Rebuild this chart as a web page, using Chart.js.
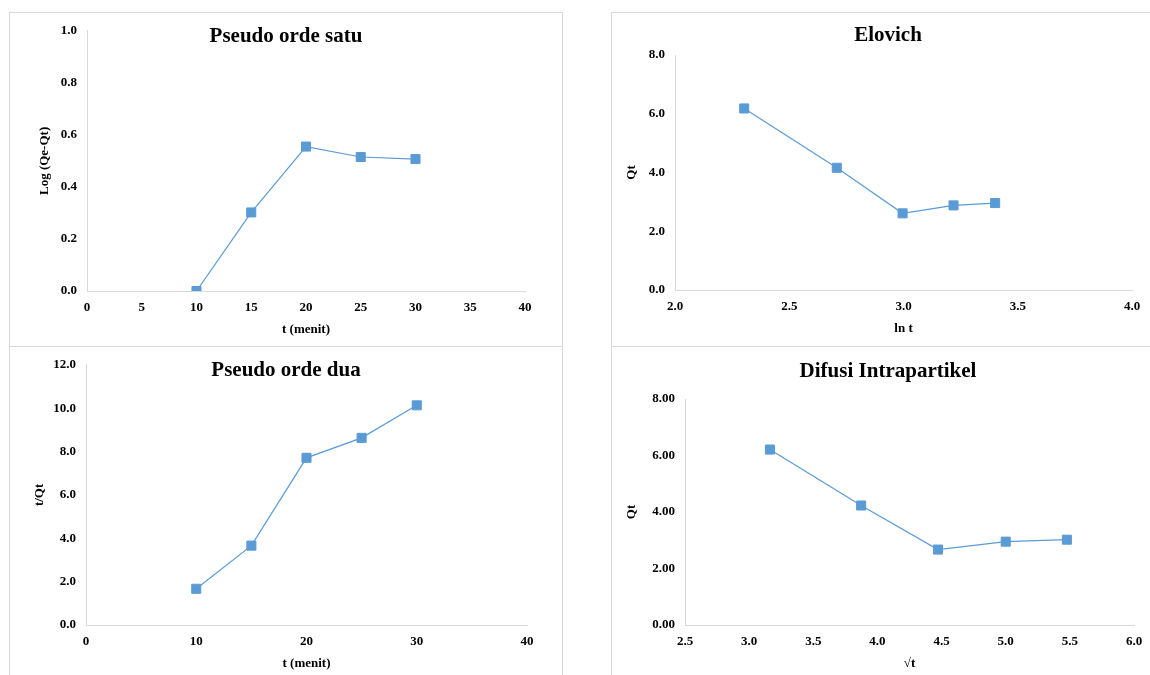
<!DOCTYPE html>
<html>
<head>
<meta charset="utf-8">
<script src="https://cdn.jsdelivr.net/npm/chart.js@4.4.1/dist/chart.umd.min.js"></script>
<style>
  html, body { margin: 0; padding: 0; background: #fff; }
  #page { position: relative; width: 1150px; height: 675px; overflow: hidden; }
  .panel { position: absolute; box-sizing: border-box; border: 1px solid #d9d9d9; }
  .panel canvas { display: block; }
</style>
</head>
<body>
<div id="page">
  <div class="panel" id="p1" style="left:9px; top:12px; width:554px; height:335px;"><canvas id="c1"></canvas></div>
  <div class="panel" id="p2" style="left:611px; top:12px; width:545px; height:335px;"><canvas id="c2"></canvas></div>
  <div class="panel" id="p3" style="left:9px; top:346px; width:554px; height:335px;"><canvas id="c3"></canvas></div>
  <div class="panel" id="p4" style="left:611px; top:346px; width:545px; height:335px;"><canvas id="c4"></canvas></div>
</div>
<script>
// --- data ---
const tMenit = [10, 15, 20, 25, 30];
const logQeQt = [0.0, 0.302, 0.555, 0.515, 0.507];
const lnT = [2.303, 2.708, 2.996, 3.219, 3.401];
const qtElovich = [6.18, 4.16, 2.61, 2.88, 2.96];
const tPerQt = [1.67, 3.66, 7.71, 8.63, 10.13];
const akarT = [3.162, 3.873, 4.472, 5.0, 5.477];
const qtDifusi = [6.21, 4.23, 2.67, 2.95, 3.02];

// tick labels
const xTicksSatu = [0, 5, 10, 15, 20, 25, 30, 35, 40];
const yTicksSatu = [0, 0.2, 0.4, 0.6, 0.8, 1.0];
const xTicksElovich = [2.0, 2.5, 3.0, 3.5, 4.0];
const yTicksElovich = [0, 2, 4, 6, 8];
const xTicksDua = [0, 10, 20, 30, 40];
const yTicksDua = [0, 2, 4, 6, 8, 10, 12];
const xTicksDifusi = [2.5, 3.0, 3.5, 4.0, 4.5, 5.0, 5.5, 6.0];
const yTicksDifusi = [0, 2, 4, 6, 8];

const FONT = '"Liberation Serif", "Times New Roman", serif';
const BLUE = '#5b9bd5';
const AXIS_GRAY = '#d9d9d9';

// judul grafik digambar di dalam kanvas
const panelTitle = {
    id: 'panelTitle',
    afterDraw(chart, args, opts) {
        const ctx = chart.ctx;
        ctx.save();
        ctx.font = 'bold 21px ' + FONT;
        ctx.fillStyle = '#000';
        ctx.textAlign = 'center';
        ctx.textBaseline = 'middle';
        ctx.fillText(opts.text, opts.x, opts.y);
        ctx.restore();
    }
};

function axis(ticks, digits, label, fitSize, titlePad, tickPad, horizontal) {
    return {
        type: 'linear',
        min: ticks[0],
        max: ticks[ticks.length - 1],
        afterBuildTicks: s => { s.ticks = ticks.map(v => ({ value: v })); },
        afterFit: s => { if (horizontal) s.height = fitSize; else s.width = fitSize; },
        grid: { display: false, drawTicks: false },
        border: { display: true, color: AXIS_GRAY, width: 1 },
        ticks: {
            color: '#000',
            padding: tickPad,
            autoSkip: false,
            maxRotation: 0,
            font: { family: FONT, size: 13, weight: 'bold' },
            callback: v => Number(v).toFixed(digits)
        },
        title: {
            display: true,
            text: label,
            color: '#000',
            font: { family: FONT, size: 13, weight: 'bold' },
            padding: horizontal ? { top: 0, bottom: titlePad } : { top: titlePad, bottom: 0 }
        }
    };
}

function buildPanel(canvasId, p) {
    const ctx = document.getElementById(canvasId).getContext('2d');
    return new Chart(ctx, {
        type: 'scatter',
        data: {
            datasets: [{
                data: p.xs.map((x, i) => ({ x: x, y: p.ys[i] })),
                showLine: true,
                borderColor: BLUE,
                borderWidth: 1.2,
                backgroundColor: BLUE,
                pointStyle: 'rect',
                pointRadius: 6.4,
                pointBorderColor: BLUE,
                pointBorderWidth: 1
            }]
        },
        options: {
            responsive: true,
            maintainAspectRatio: false,
            animation: false,
            layout: { padding: { left: 0, top: p.padTop, right: p.padRight, bottom: 0 } },
            plugins: {
                legend: { display: false },
                tooltip: { enabled: false },
                panelTitle: { text: p.title, x: p.titleX, y: p.titleY }
            },
            scales: {
                x: axis(p.xTicks, p.xDigits, p.xLabel, p.xHeight, p.xTitlePad, 9, true),
                y: axis(p.yTicks, p.yDigits, p.yLabel, p.yWidth, p.yTitlePad, 10, false)
            }
        },
        plugins: [panelTitle]
    });
}

document.addEventListener('DOMContentLoaded', () => {
    buildPanel('c1', {
        title: 'Pseudo orde satu', titleX: 276, titleY: 24,
        xs: tMenit, ys: logQeQt, xTicks: xTicksSatu, yTicks: yTicksSatu,
        xDigits: 0, yDigits: 1, xLabel: 't (menit)', yLabel: 'Log (Qe-Qt)',
        padTop: 16, padRight: 37, xHeight: 55, yWidth: 77, xTitlePad: 9, yTitlePad: 27
    });
    buildPanel('c2', {
        title: 'Elovich', titleX: 276, titleY: 23,
        xs: lnT, ys: qtElovich, xTicks: xTicksElovich, yTicks: yTicksElovich,
        xDigits: 1, yDigits: 1, xLabel: 'ln t', yLabel: 'Qt',
        padTop: 42, padRight: 23, xHeight: 56, yWidth: 63, xTitlePad: 10, yTitlePad: 12
    });
    buildPanel('c3', {
        title: 'Pseudo orde dua', titleX: 276, titleY: 24,
        xs: tMenit, ys: tPerQt, xTicks: xTicksDua, yTicks: yTicksDua,
        xDigits: 0, yDigits: 1, xLabel: 't (menit)', yLabel: 't/Qt',
        padTop: 16, padRight: 35, xHeight: 55, yWidth: 76, xTitlePad: 9, yTitlePad: 22
    });
    buildPanel('c4', {
        title: 'Difusi Intrapartikel', titleX: 276, titleY: 25,
        xs: akarT, ys: qtDifusi, xTicks: xTicksDifusi, yTicks: yTicksDifusi,
        xDigits: 1, yDigits: 2, xLabel: '\u221At', yLabel: 'Qt',
        padTop: 52, padRight: 21, xHeight: 55, yWidth: 73, xTitlePad: 9, yTitlePad: 12
    });
});
</script>
</body>
</html>
